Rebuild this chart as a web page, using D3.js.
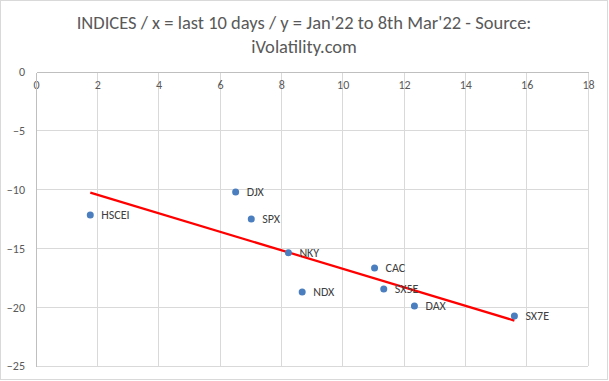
<!DOCTYPE html>
<html><head><meta charset="utf-8">
<script src="https://cdn.jsdelivr.net/npm/d3@7"></script>
<style>body{margin:0;background:#fff}svg{display:block}</style>
</head><body>
<script>
const names = ["HSCEI","DJX","SPX","NKY","NDX","CAC","SX5E","DAX","SX7E"];
const xValues = [1.77, 6.51, 7.02, 8.23, 8.68, 11.04, 11.34, 12.34, 15.6];
const yValues = [-12.16, -10.2, -12.5, -15.37, -18.7, -16.67, -18.45, -19.9, -20.75];
const xTicks = [0,2,4,6,8,10,12,14,16,18];
const yTicks = [0,-5,-10,-15,-20,-25];
const titleLines = ["INDICES / x = last 10 days / y = Jan'22 to 8th Mar'22 - Source:", "iVolatility.com"];

const W = 609, H = 381;
const svg = d3.select("body").append("svg").attr("width", W).attr("height", H);
svg.append("rect").attr("x",0.5).attr("y",0.5).attr("width",607).attr("height",379)
  .attr("fill","#fff").attr("stroke","#d9d9d9");

const x = d3.scaleLinear().domain([0,18]).range([36,588]);
const y = d3.scaleLinear().domain([-25,0]).range([366,72]);

const font = "Calibri, Carlito, Lato, 'Open Sans', sans-serif";

// gridlines
svg.append("g").selectAll("line").data(xTicks.slice(1)).join("line")
  .attr("x1",d=>x(d)).attr("x2",d=>x(d)).attr("y1",y(0)).attr("y2",y(-25))
  .attr("stroke","#d9d9d9").attr("stroke-width",1).attr("shape-rendering","crispEdges");
svg.append("g").selectAll("line").data(yTicks.slice(1)).join("line")
  .attr("x1",x(0)).attr("x2",x(18)).attr("y1",d=>y(d)).attr("y2",d=>y(d))
  .attr("stroke","#d9d9d9").attr("stroke-width",1).attr("shape-rendering","crispEdges");

// axes
const xAxis = svg.append("g").attr("transform",`translate(0,${y(0)})`)
  .call(d3.axisBottom(x).tickValues(xTicks).tickSize(0).tickPadding(8));
const yAxis = svg.append("g").attr("transform",`translate(${x(0)},0)`)
  .call(d3.axisLeft(y).tickValues(yTicks).tickSize(0).tickPadding(11));
[xAxis,yAxis].forEach(a=>{
  a.select(".domain").attr("stroke","#bfbfbf").attr("shape-rendering","crispEdges");
  a.selectAll("text").attr("fill","#595959").style("font-family",font).style("font-size","12px");
});

// trendline (least squares)
const n = xValues.length;
const mx = d3.mean(xValues), my = d3.mean(yValues);
let sxy=0, sxx=0;
for(let i=0;i<n;i++){ sxy+=(xValues[i]-mx)*(yValues[i]-my); sxx+=(xValues[i]-mx)**2; }
const slope = sxy/sxx, icpt = my - slope*mx;
const x0 = d3.min(xValues), x1 = d3.max(xValues);
svg.append("line").attr("x1",x(x0)).attr("y1",y(slope*x0+icpt))
  .attr("x2",x(x1)).attr("y2",y(slope*x1+icpt))
  .attr("stroke","#ff0000").attr("stroke-width",2.25);

// points
const pts = names.map((nm,i)=>({nm, x:xValues[i], y:yValues[i]}));
svg.append("g").selectAll("circle").data(pts).join("circle")
  .attr("cx",d=>x(d.x)).attr("cy",d=>y(d.y)).attr("r",3.5).attr("fill","#4a7ebf");
svg.append("g").selectAll("text").data(pts).join("text")
  .attr("x",d=>x(d.x)+11).attr("y",d=>y(d.y)).attr("dy","0.35em")
  .attr("fill","#404040").style("font-family",font).style("font-size","12px")
  .text(d=>d.nm);

// title
svg.append("g").selectAll("text").data(titleLines).join("text")
  .attr("x",304).attr("y",(d,i)=>29+i*24).attr("text-anchor","middle")
  .attr("fill","#595959").style("font-family",font).style("font-size","18.5px")
  .text(d=>d);
</script>
</body></html>
